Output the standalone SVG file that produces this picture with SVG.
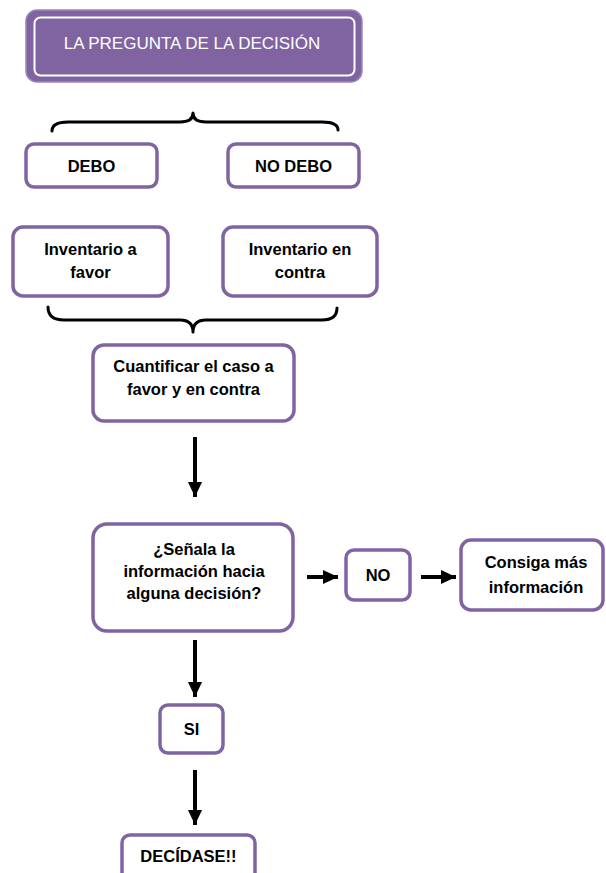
<svg xmlns="http://www.w3.org/2000/svg" width="606" height="873" viewBox="0 0 606 873">
<style>
.box{fill:#fff;stroke:#8064A2;stroke-width:3.5}
.t{font-family:"Liberation Sans",Arial,sans-serif;font-weight:bold;font-size:16.5px;fill:#000;text-anchor:middle}
.title{font-family:"Liberation Sans",Arial,sans-serif;font-size:17px;fill:#fff;text-anchor:middle}
.brace{fill:none;stroke:#000;stroke-width:3;stroke-linecap:round;stroke-linejoin:round}
.arrow{stroke:#000;stroke-width:4;fill:none}
</style>
<defs>
<marker id="ah" markerUnits="userSpaceOnUse" markerWidth="16" markerHeight="16" viewBox="0 0 16 16" refX="15" refY="8" orient="auto">
<path d="M0,1 L15,8 L0,15 Z" fill="#000"/>
</marker>
</defs>
<rect width="606" height="873" fill="#fff"/>
<g id="title">
<rect x="26" y="10" width="336" height="72" rx="11" fill="#8064A2" stroke="#9a86b8" stroke-width="1.5"/>
<rect x="34.5" y="17.5" width="320" height="58" rx="6" fill="none" stroke="#fff" stroke-width="2"/>
<text class="title" x="192" y="49">LA PREGUNTA DE LA DECISIÓN</text>
</g>
<g id="connectors">
<path class="brace" d="M52,131 Q52,122 68,122 L180,122 Q193,122 193,113 Q193,122 206,122 L322,122 Q338,122 338,130"/>
<path class="brace" d="M48,307 Q48,320 64,320 L180,320 Q193,320 193,332 Q193,320 206,320 L322,320 Q337,320 337,308"/>
<line class="arrow" x1="195" y1="437" x2="195" y2="497" marker-end="url(#ah)"/>
<line class="arrow" x1="195" y1="640" x2="195" y2="697" marker-end="url(#ah)"/>
<line class="arrow" x1="195" y1="770" x2="195" y2="825" marker-end="url(#ah)"/>
<line class="arrow" x1="307" y1="577" x2="338" y2="577" marker-end="url(#ah)"/>
<line class="arrow" x1="421" y1="577" x2="456" y2="577" marker-end="url(#ah)"/>
</g>
<g id="debo">
<rect class="box" x="26" y="144" width="131" height="43" rx="8"/>
<text class="t" x="91.5" y="172">DEBO</text>
</g>
<g id="nodebo">
<rect class="box" x="228" y="144" width="131" height="43" rx="8"/>
<text class="t" x="293.5" y="172">NO DEBO</text>
</g>
<g id="favor">
<rect class="box" x="13" y="227" width="155" height="69" rx="10"/>
<text class="t" x="90.5" y="255">Inventario a</text>
<text class="t" x="90.5" y="278">favor</text>
</g>
<g id="contra">
<rect class="box" x="223" y="227" width="154" height="69" rx="10"/>
<text class="t" x="300" y="255">Inventario en</text>
<text class="t" x="300" y="278">contra</text>
</g>
<g id="cuantificar">
<rect class="box" x="93" y="345" width="201" height="76" rx="11"/>
<text class="t" x="193.5" y="372">Cuantificar el caso a</text>
<text class="t" x="193.5" y="395">favor y en contra</text>
</g>
<g id="pregunta">
<rect class="box" x="93" y="524" width="200" height="107" rx="14"/>
<text class="t" x="194" y="555">¿Señala la</text>
<text class="t" x="194" y="577">información hacia</text>
<text class="t" x="194" y="599">alguna decisión?</text>
</g>
<g id="no">
<rect class="box" x="346" y="550" width="64" height="50" rx="8"/>
<text class="t" x="378" y="581">NO</text>
</g>
<g id="consiga">
<rect class="box" x="461" y="540" width="142" height="70" rx="10"/>
<text class="t" x="536" y="568">Consiga más</text>
<text class="t" x="536" y="593">información</text>
</g>
<g id="si">
<rect class="box" x="160" y="705" width="63" height="48" rx="8"/>
<text class="t" x="191.5" y="735">SI</text>
</g>
<g id="decidase">
<rect class="box" x="122" y="835" width="133" height="48" rx="8"/>
<text class="t" x="188.5" y="862">DECÍDASE!!</text>
</g>
</svg>
